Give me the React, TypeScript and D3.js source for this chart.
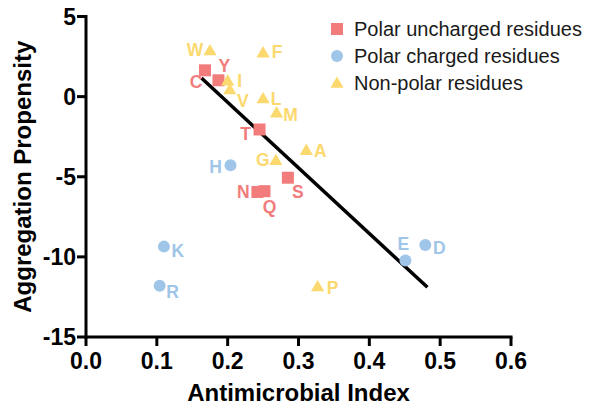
import * as d3 from 'd3';

const unchargedNames = ['C', 'Y', 'T', 'N', 'Q', 'S'];
const unchargedX = [0.168, 0.187, 0.245, 0.242, 0.252, 0.285];
const unchargedY = [1.64, 1.02, -2.05, -5.95, -5.9, -5.06];

const chargedNames = ['H', 'K', 'R', 'E', 'D'];
const chargedX = [0.204, 0.11, 0.104, 0.451, 0.479];
const chargedY = [-4.28, -9.36, -11.8, -10.23, -9.26];

const nonPolarNames = ['W', 'F', 'I', 'V', 'L', 'M', 'A', 'G', 'P'];
const nonPolarX = [0.175, 0.25, 0.2, 0.203, 0.25, 0.269, 0.311, 0.268, 0.327];
const nonPolarY = [2.88, 2.74, 1.0, 0.44, -0.12, -1.0, -3.34, -3.97, -11.85];

const fitX = [0.163, 0.482];
const fitY = [1.16, -11.9];

const xTicks = [0, 0.1, 0.2, 0.3, 0.4, 0.5, 0.6];
const yTicks = [5, 0, -5, -10, -15];

const legendLabels = ['Polar uncharged residues', 'Polar charged residues', 'Non-polar residues'];

// label offsets from the marker, in px
const labelOffset: Record<string, [number, number]> = {
  C: [-9, 12], Y: [6, -14], T: [-14, 5], N: [-14, 0], Q: [5, 16], S: [10, 14],
  H: [-15, 2], K: [14, 4], R: [13, 6], E: [-2, -17], D: [14, 3],
  W: [-15, 0], F: [14, -1], I: [12, 0], V: [13, 11], L: [13, 0], M: [14, 2],
  A: [14, 1], G: [-13, 0], P: [15, 1],
};

const RED = '#f27c7c';
const BLUE = '#9fc5e8';
const YELLOW = '#fbd96e';
const FONT = '"Liberation Sans", Arial, sans-serif';

const W = 590;
const H = 405;

export default function App() {
  const x = d3.scaleLinear().domain([0, 0.6]).range([86, 511]);
  const y = d3.scaleLinear().domain([-15, 5]).range([337, 16.5]);

  const tri = d3.symbol().type(d3.symbolTriangle).size(75)();

  const groups = [
    { names: unchargedNames, xs: unchargedX, ys: unchargedY, color: RED, shape: 'square' },
    { names: chargedNames, xs: chargedX, ys: chargedY, color: BLUE, shape: 'circle' },
    { names: nonPolarNames, xs: nonPolarX, ys: nonPolarY, color: YELLOW, shape: 'triangle' },
  ];

  const marker = (shape: string, color: string, cx: number, cy: number, key: string) => {
    if (shape === 'square') return <rect key={key} x={cx - 6} y={cy - 6} width={12} height={12} fill={color} />;
    if (shape === 'circle') return <circle key={key} cx={cx} cy={cy} r={6} fill={color} />;
    return <path key={key} d={tri!} transform={`translate(${cx},${cy + 1})`} fill={color} />;
  };

  const line = d3.line<number>().x((d) => x(fitX[d])).y((d) => y(fitY[d]));

  const x0 = x(0);
  const y0 = y(-15);

  return (
    <svg width={W} height={H} style={{ position: 'absolute', left: 0, top: 0, background: '#fff' }} fontFamily={FONT}>
      {/* fit line */}
      <path d={line([0, 1])!} stroke="#000" strokeWidth={3.5} fill="none" />

      {/* points */}
      {groups.map((g) =>
        g.names.map((n, i) => {
          const cx = x(g.xs[i]);
          const cy = y(g.ys[i]);
          const [dx, dy] = labelOffset[n];
          return (
            <g key={n}>
              {marker(g.shape, g.color, cx, cy, n + 'm')}
              <text x={cx + dx} y={cy + dy} fill={g.color} fontSize={17.5} fontWeight="bold"
                textAnchor="middle" dominantBaseline="central">{n}</text>
            </g>
          );
        })
      )}

      {/* axes */}
      <g stroke="#000" strokeWidth={3}>
        <line x1={x0} x2={x0} y1={y(5) - 1.5} y2={y0 + 1.5} />
        <line x1={x0 - 1.5} x2={x(0.6) + 1.5} y1={y0} y2={y0} />
        {xTicks.map((t) => <line key={'xt' + t} x1={x(t)} x2={x(t)} y1={y0} y2={y0 + 9} />)}
        {yTicks.map((t) => <line key={'yt' + t} x1={x0 - 9} x2={x0} y1={y(t)} y2={y(t)} />)}
      </g>
      {xTicks.map((t) => (
        <text key={'xl' + t} x={x(t)} y={y0 + 24} textAnchor="middle" dominantBaseline="central"
          fontSize={23} fontWeight="bold">{d3.format('.1f')(t)}</text>
      ))}
      {yTicks.map((t) => (
        <text key={'yl' + t} x={x0 - 10} y={y(t)} textAnchor="end" dominantBaseline="central"
          fontSize={23} fontWeight="bold">{t}</text>
      ))}
      <text x={(x(0) + x(0.6)) / 2} y={392} textAnchor="middle" dominantBaseline="central"
        fontSize={24} fontWeight="bold">Antimicrobial Index</text>
      <text transform={`translate(22,${(y(5) + y(-15)) / 2}) rotate(-90)`} textAnchor="middle"
        dominantBaseline="central" fontSize={24} fontWeight="bold">Aggregation Propensity</text>

      {/* legend */}
      {legendLabels.map((l, i) => {
        const ly = 29 + i * 27;
        return (
          <g key={l}>
            {marker(groups[i].shape, groups[i].color, 337, ly, l + 'm')}
            <text x={354} y={ly} dominantBaseline="central" fontSize={20} fill="#1a1a1a">{l}</text>
          </g>
        );
      })}
    </svg>
  );
}
